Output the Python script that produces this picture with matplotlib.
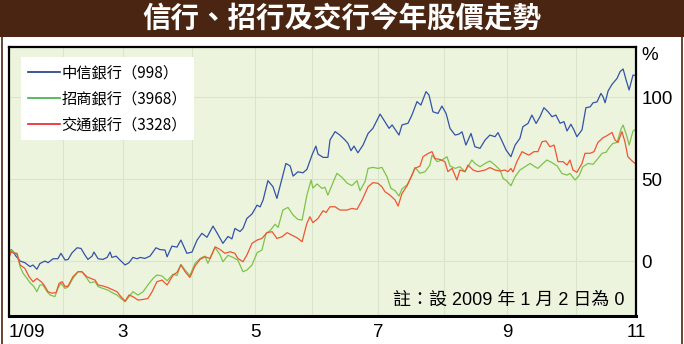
import matplotlib
matplotlib.use("Agg")
import matplotlib.pyplot as plt
from matplotlib.lines import Line2D
from matplotlib.patches import Rectangle

# trading-day index (0 = 2 Jan 2009) and % change since 2 Jan 2009
citic_day = [0, 0.7, 1.3, 2.3, 3.7, 5.3, 7, 8, 9.3, 10.3, 12, 13, 14.7, 16.3, 17.3, 18.7, 19.7, 21, 22.7, 24,
             25.3, 26.3, 27.7, 28.3, 29.7, 31.3, 32.7, 33.7, 34.3, 35.7, 37, 38.7, 40, 41.3, 42.7, 43.7, 45.3, 47,
             49, 50.3, 52, 52.7, 54.3, 56, 57.3, 59.3, 61, 62.7, 64.3, 66, 68, 69.3, 71.3, 73, 74.3, 75.3, 77, 78,
             79.3, 81, 82.7, 83.7, 84.7, 86.3, 88, 89.3, 91, 92.3, 93.7, 94.7, 96.3, 98, 99.3, 101, 102.3, 103,
             104.7, 106.3, 107, 108.7, 110.3, 112, 113, 114, 115, 116.3, 118, 119.7, 121.3, 122.7, 123.7, 125.3,
             126.7, 127.7, 129, 130, 131, 133, 134.3, 136, 137.3, 139, 140, 141.3, 143, 144.3, 145.7, 147, 148.7,
             150, 151, 152.3, 154, 155.3, 157, 158.7, 160.3, 162, 163, 164.3, 165.7, 167.3, 168.7, 170.3, 171.3,
             173, 174.3, 175.7, 177, 178.3, 179.7, 181, 182.3, 183.7, 185, 186, 187.3, 188.3, 189.3, 191, 192.3,
             193.7, 194.7, 196, 197.3, 198, 198.7, 199.7, 201, 202.7, 203.7, 204.7, 205.7, 206.7, 208, 209]
citic = [2, 7, 6, 3, 0, -1, -3.4, -2.4, -5, -1.5, 0, -1, 1.4, 1.4, 4.7, 0.6, 1, 5, 8.1, 7.7,
         3.7, 1, 3, 5.5, 1.4, 1, 2.2, 5.5, 2.2, 3, 0.6, -2.4, -1, 2.2, 1.4, 2.2, 1.6, 3,
         8.1, 7, 6.7, 2.6, 9.1, 8.5, 12.8, 4.7, 5.5, 12.8, 16.9, 14.5, 21.3, 17.3, 10.8, 15, 13.5, 19.9, 18, 19.9,
         26, 28.7, 34.1, 33, 37.2, 49, 45.3, 38.2, 50.4, 59.5, 58, 51.8, 54.4, 53.8, 55.9, 64.6, 70.1, 65.2,
         63.2, 63.2, 73.8, 78.9, 76.8, 73.8, 71.7, 67.3, 70.1, 66, 70.7, 77.8, 80.9, 86, 89.6, 84.9,
         80.9, 83, 79.5, 76.8, 83, 84, 89, 97.2, 95.1, 103.3, 101.2, 91, 90, 94.5, 90, 80.9, 76.8,
         77.4, 78.8, 70.7, 77.8, 69.7, 68.7, 73.8, 76.8, 75.8, 78.3, 73.3, 67.7, 63.6, 70.7, 74.8, 81.9,
         83.9, 89, 83.9, 88, 93.5, 91, 88, 89, 84, 85, 79.3, 83.4, 80, 75.8, 80, 93.5,
         94, 96.5, 97, 102.2, 100.2, 96.5, 103.7, 107.7, 111.4, 115.5, 117.1, 110.4, 104.3, 113.4, 113]

cmb_day = [0, 0.7, 1.3, 2.7, 3.7, 4.7, 6, 7, 8.3, 9.3, 10.3, 11.3, 12.7, 13.7, 15.3, 16.3, 17.3, 18.7, 19.7,
           21.3, 23, 24.3, 26, 27, 28.7, 29.7, 31.3, 33, 34.3, 36, 37.3, 38.7, 40, 41.3, 43, 44.7, 46.3, 48,
           49.3, 51, 52.7, 54.7, 56, 57.3, 58.7, 60.3, 62, 63.7, 65.3, 66.3, 68.7, 70.3, 71.3, 73, 74.7, 76.3,
           78, 79.3, 81, 82.7, 84.3, 85.7, 87, 88.7, 89.7, 91.3, 93, 94.7, 96.3, 97.7, 99.3, 100.7, 101.3,
           102.7, 104.3, 105.3, 106.3, 107.7, 109.3, 111, 112.7, 114.3, 116, 117, 118.7, 119.7, 121.3, 123,
           124.3, 126, 127.3, 128.7, 130, 131, 132.7, 134.3, 135.3, 137, 138.7, 140.3, 141, 142.7, 144.3, 146,
           147, 148.7, 150.3, 152, 154.3, 155.3, 157, 158.7, 160.3, 162, 163.7, 164.7, 166, 167.3, 168.7,
           170.3, 172, 173.7, 175.3, 176.3, 178, 179.3, 181, 182.7, 184.3, 186, 187, 188.7, 190, 191.3, 193,
           194.7, 196.3, 197.7, 199, 200.3, 201.3, 202.7, 204, 204.7, 206, 206.7, 208, 209]
cmb = [3, 6.7, 6, 3.7, -3.4, -7.5, -10.6, -13.2, -15.6, -18.7, -14.6, -14.6, -18.7, -20.7, -21.7, -16.7, -13.6,
       -16.7, -15.8, -10.6, -6.5, -6.5, -10.6, -13.2, -12.6, -15.6, -16.7, -17.7, -19.2, -20.7, -22.8, -24.8,
       -21.7, -18.7, -20.7, -18.7, -14.6, -10.6, -8.5, -9.1, -12, -8, -8.8, -2, -5.5, -8.8, -1.4, 1.6, 3, -1.4,
       8.2, 4, -0.4, 3.5, 2.2, 0.5, -6.5, -5.5, -2.4, 5.1, 6.7, 16.9, 18.5, 22.4, 20.5, 31.1, 32.7, 28, 25.4,
       25, 40.2, 49.4, 44.5, 47, 44.3, 45, 40.2, 46.5, 53.5, 51, 47.5, 46, 49, 42.9, 48.5, 56.5, 57.1, 56.5,
       57.1, 51.4, 44.3, 42.9, 39.6, 44, 46.5, 52, 57.1, 53.5, 54.5, 58.5, 64.6, 60.6, 61.6, 63.6,
       58, 56.5, 57.5, 54.5, 61.6, 59.5, 57.5, 59.5, 61, 58.5, 55.5, 50.4, 48.8, 45.9, 51.4,
       55.5, 57.5, 59.5, 57.5, 56.5, 59.5, 61.6, 60, 58, 53.4, 52.4, 53.4, 49.4, 52, 57.5, 59.5,
       59, 62.5, 65.7, 66.3, 69.7, 71.7, 72.3, 80.5, 82.9, 75.8, 70.7, 79.3, 80.5]

bocom_day = [0, 0.7, 1.3, 2.7, 3.7, 5.3, 6.7, 8, 9.3, 10.7, 11.7, 13, 14.3, 15.7, 16.7, 17.7, 18.7, 19.7, 21.3,
             23, 24.3, 26, 27.3, 28.7, 29.7, 31.3, 33, 34.3, 36, 37.3, 38.7, 40, 41.3, 43, 44.7, 46.3, 47.7,
             49.3, 51, 52.7, 54.7, 56, 57.3, 58.7, 60.3, 62, 63.7, 65.3, 67, 68.7, 70.3, 72, 73.7, 75.3, 76.3,
             78, 79.3, 81, 82.7, 84.3, 86, 87.7, 89.3, 91, 92.7, 94.3, 96, 97.7, 99.3, 100.3, 101.3, 103,
             104.7, 105.7, 107, 108.7, 110.3, 112.7, 114.3, 116, 117.7, 119.7, 121.3, 123, 124.3, 125.3, 127,
             128.7, 129.7, 131, 132.7, 134.3, 135.3, 137, 138, 139.7, 141, 142, 143.7, 145.3, 146.3, 147.7,
             149.3, 150.3, 152, 153, 154.7, 156.3, 158.7, 160.3, 162, 163.7, 165.3, 166.3, 167.3, 168, 169.3,
             171, 172, 173.3, 175, 176.3, 177.7, 179, 180.3, 181.7, 183, 184.7, 186, 187, 188, 189.3, 191, 192,
             193.7, 195, 196.3, 198, 199.3, 201, 202, 203, 204.3, 205.3, 206.3, 207.7, 208.7]
bocom = [2, 5.7, 5, 4.7, -2.4, -4.5, -9.6, -12.6, -10.6, -12.6, -14.6, -18.7, -19.6, -19.2, -13.6, -12.6, -15.6,
         -15.2, -9.6, -6.5, -6.5, -9.6, -10.6, -11.6, -14.6, -15.2, -16.2, -17.3, -18.7, -21.7, -24.4, -20.7,
         -21.7, -23.8, -23.4, -22.8, -18.7, -12.6, -11.6, -14.6, -8.5, -6.9, -2.4, -6.5, -10, -3, 1, 2.6, 1.6,
         8.7, 7.1, 4.7, 5.7, 4.7, 1.6, -0.4, 3.7, 10.8, 12.8, 13.8, 17.3, 17.9, 13.8, 14.8, 17.3, 15.8, 14.2,
         11.8, 23, 27, 23.4, 26, 30.7, 29.6, 33.1, 33.1, 31.1, 31.1, 32.1, 31.5, 37.2, 45.3, 47.8, 47.4, 45.3,
         42.3, 40.2, 37.2, 33.5, 41.2, 45.9, 52.4, 56.5, 57.9, 63.6, 65.6, 66.7, 62.5, 61.9, 60.6, 54.5, 56.5,
         49.4, 55.5, 54.5, 58.5, 55.5, 54.5, 55.5, 57, 55.5, 54.9, 55.5, 54.5, 56.5, 54.3, 60.6,
         66.7, 65.7, 64.6, 66.7, 66.7, 72.8, 73.2, 69.7, 70.7, 60.6, 60.6, 58.5, 61.6, 55.5, 54.1, 59.5, 65.7,
         65.7, 66.7, 72.3, 75.2, 76.4, 78.4, 73.8, 72.3, 78.9, 72.8, 63.6, 61, 59.5]

labels = ["中信銀行（998）", "招商銀行（3968）", "交通銀行（3328）"]
line_colors = ["#3352a8", "#7ec24a", "#ee5533"]
legend_colors = ["#1c3a80", "#3db049", "#ee1c24"]

month_start = [0, 18, 38, 61, 82, 101, 123, 145, 166, 189, 209]
month_labels = ["1/09", "", "3", "", "5", "", "7", "", "9", "", "11"]
y_ticks = [0, 50, 100]

title = "信行、招行及交行今年股價走勢"
note = "註：設 2009 年 1 月 2 日為 0"

cjk = ["Noto Sans CJK TC", "DejaVu Sans"]
latin = ["Liberation Sans", "Noto Sans CJK TC"]
brown = "#4a2612"

fig = plt.figure(figsize=(6.84, 3.44), dpi=100)
fig.patch.set_facecolor("white")

# title bar
fig.patches.append(Rectangle((0, 1 - 37 / 344), 1, 37 / 344, transform=fig.transFigure,
                             facecolor=brown, edgecolor="none"))
fig.text(0.5, 1 - 18.5 / 344, title, color="white", fontsize=20.5, fontweight="heavy",
         family=cjk, ha="center", va="center")
# outer frame sides
for fx in (1.5 / 684, 681.5 / 684):
    fig.add_artist(Line2D([fx, fx], [0, 1 - 37 / 344], transform=fig.transFigure,
                          color=brown, linewidth=1.2))

ax = fig.add_axes([9 / 684, 1 - 316 / 344, 627 / 684, 269 / 344])
ax.set_facecolor("#edf4de")

for d, v, c in zip([citic_day, cmb_day, bocom_day], [citic, cmb, bocom], line_colors):
    ax.plot(d, v, color=c, linewidth=0.9)

ax.set_xlim(0, 209)
ax.set_ylim(-33.5, 130.5)

ax.set_xticks(month_start)
ax.set_xticklabels(month_labels, family=latin, fontsize=13.5)
ax.get_xticklabels()[0].set_ha("left")
ax.set_yticks(y_ticks)
ax.set_yticklabels([str(t) for t in y_ticks], family=latin, fontsize=13.5)
ax.yaxis.tick_right()
ax.tick_params(axis="x", length=0, pad=6)
ax.tick_params(axis="y", length=0, pad=4)
ax.grid(True, color="#d9e5c9", linewidth=0.8)
ax.set_axisbelow(True)

for side, sp in ax.spines.items():
    sp.set_color("black")
    sp.set_linewidth(2.2 if side == "bottom" else 1.6)

fig.text(641 / 684, 1 - 55 / 344, "%", family=latin, fontsize=13.5, ha="left", va="center")

ax.text(0.981, 0.06, note, transform=ax.transAxes, family=latin, fontsize=13,
        ha="right", va="center")

handles = [Line2D([], [], color=c, linewidth=1.2) for c in legend_colors]
leg = ax.legend(handles, labels, loc="upper left", bbox_to_anchor=(12 / 627, 1 - 10 / 269),
                borderaxespad=0, borderpad=0.45, handlelength=2.1, handletextpad=0.1,
                labelspacing=0.6, frameon=True, fancybox=False,
                prop={"family": cjk, "size": 11})
leg.get_frame().set_facecolor("white")
leg.get_frame().set_edgecolor("none")
leg.get_frame().set_alpha(1)

fig.savefig("out.png", dpi=100)
